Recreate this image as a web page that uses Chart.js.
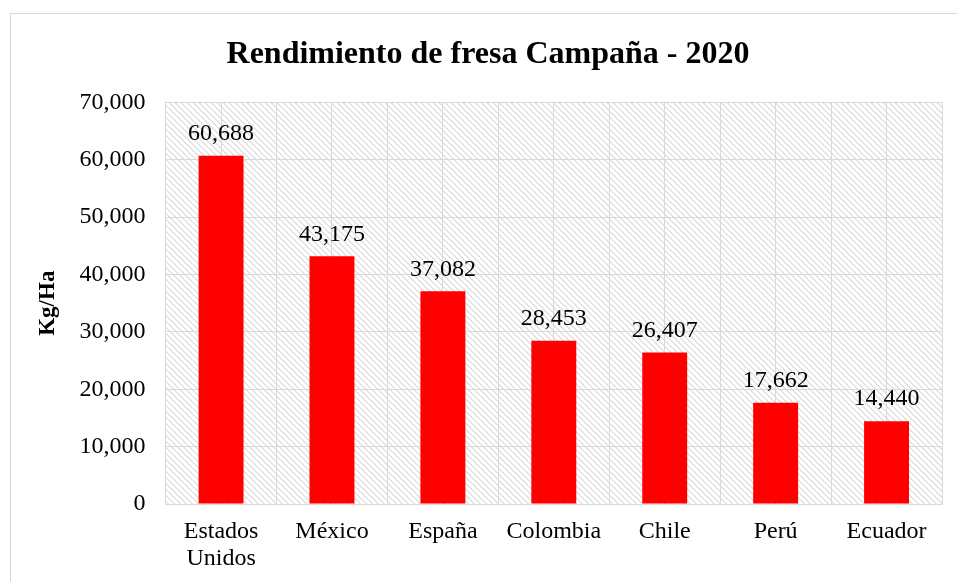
<!DOCTYPE html>
<html>
<head>
<meta charset="utf-8">
<script src="https://cdn.jsdelivr.net/npm/chart.js@4.4.0/dist/chart.umd.min.js"></script>
<style>
  html, body { margin: 0; padding: 0; background: #fff; overflow: hidden; }
  #frame { position: absolute; left: 10px; top: 13px; width: 980px; height: 620px; border: 1px solid #d9d9d9; }
  #wrap { position: absolute; left: 0; top: 0; width: 957px; height: 582px; }
</style>
</head>
<body>
<div id="frame"></div>
<div id="wrap"><canvas id="chart"></canvas></div>
<script>
const countries = [['Estados', 'Unidos'], 'México', 'España', 'Colombia', 'Chile', 'Perú', 'Ecuador'];
const yields = [60688, 43175, 37082, 28453, 26407, 17662, 14440];
const yTicks = [0, 10000, 20000, 30000, 40000, 50000, 60000, 70000];

const serif = '"Liberation Serif", "Times New Roman", serif';
const gridGray = '#d9d9d9';

function fmt(v){ return v.toLocaleString('en-US'); }

// diagonal hatch used as plot background
function hatchPattern(ctx){
  const c = document.createElement('canvas');
  c.width = 6; c.height = 6;
  const p = c.getContext('2d');
  p.fillStyle = '#ffffff';
  p.fillRect(0, 0, 6, 6);
  p.fillStyle = '#e2e2e2';
  for(let i=0;i<6;i++){
    p.fillRect(i, i, 1, 1);
    p.fillRect((i+1)%6, i, 1, 1);
  }
  return ctx.createPattern(c, 'repeat');
}

const plotBackground = {
  id: 'plotBackground',
  beforeDraw(chart){
    const {ctx, chartArea: a} = chart;
    ctx.save();
    ctx.fillStyle = hatchPattern(ctx);
    ctx.fillRect(a.left, a.top, a.right - a.left, a.bottom - a.top);
    ctx.restore();
  }
};

const valueLabels = {
  id: 'valueLabels',
  afterDatasetsDraw(chart){
    const {ctx} = chart;
    const meta = chart.getDatasetMeta(0);
    ctx.save();
    ctx.font = '24px ' + serif;
    ctx.fillStyle = '#000';
    ctx.textAlign = 'center';
    ctx.textBaseline = 'bottom';
    meta.data.forEach((bar, i) => {
      ctx.fillText(fmt(yields[i]), bar.x, bar.y - 10);
    });
    ctx.restore();
  }
};

new Chart(document.getElementById('chart'), {
  type: 'bar',
  data: {
    labels: countries,
    datasets: [{
      data: yields,
      backgroundColor: '#ff0000',
      borderWidth: 0,
      barPercentage: 1,
      categoryPercentage: 0.405
    }]
  },
  options: {
    responsive: true,
    maintainAspectRatio: false,
    animation: false,
    layout: { padding: { left: 34, right: 15, top: 22, bottom: -4 } },
    plugins: {
      legend: { display: false },
      tooltip: { enabled: false },
      title: {
        display: true,
        text: 'Rendimiento de fresa Campaña - 2020',
        color: '#000',
        font: { family: serif, size: 32, weight: 'bold' },
        padding: { top: 14, bottom: 28 }
      }
    },
    scales: {
      x: {
        grid: { color: gridGray, offset: true, drawTicks: false },
        border: { color: gridGray },
        ticks: { color: '#000', font: { family: serif, size: 24, lineHeight: 1.125 }, padding: 14, maxRotation: 0 }
      },
      xMid: {
        position: 'bottom',
        labels: countries,
        grid: { color: gridGray, offset: false, drawTicks: false },
        border: { display: false },
        ticks: { display: false }
      },
      y: {
        min: 0, max: 70000,
        afterBuildTicks(axis){ axis.ticks = yTicks.map(v => ({value: v})); },
        grid: { color: gridGray, drawTicks: false },
        border: { color: gridGray },
        ticks: { color: '#000', font: { family: serif, size: 24 }, padding: 20, callback: v => fmt(v) },
        title: {
          display: true,
          text: 'Kg/Ha',
          color: '#000',
          font: { family: serif, size: 23, weight: 'bold' },
          padding: { top: 0, bottom: -2 }
        }
      }
    }
  },
  plugins: [plotBackground, valueLabels]
});
</script>
</body>
</html>
